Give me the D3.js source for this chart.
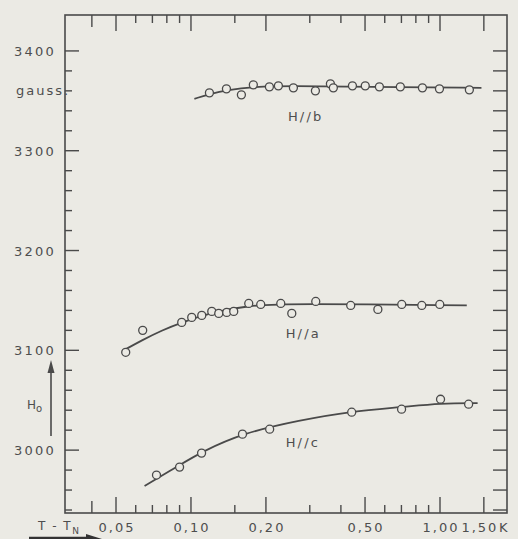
<!DOCTYPE html>
<html>
<head>
<meta charset="utf-8">
<script src="https://cdn.jsdelivr.net/npm/d3@7"></script>
<style>
  html, body { margin: 0; padding: 0; background: #ebeae4; }
  svg { display: block; }
  text { font-family: "DejaVu Sans", sans-serif; fill: #4e4e4e; }
</style>
</head>
<body>
<svg id="chart"></svg>
<script>
// measured values (T - T_N in K, H0 in gauss)
let bT = [0.1186, 0.1388, 0.1594, 0.178, 0.2065, 0.2244, 0.2578, 0.316, 0.363, 0.373, 0.445, 0.501, 0.571, 0.693, 0.85, 0.995, 1.312];
let bH = [3358, 3362, 3356, 3366, 3364, 3365, 3363, 3360, 3367, 3363, 3365, 3365, 3364, 3364, 3363, 3362, 3361];
let aT = [0.0547, 0.064, 0.0918, 0.1007, 0.1105, 0.1212, 0.1293, 0.1392, 0.1485, 0.1706, 0.1906, 0.2294, 0.254, 0.317, 0.438, 0.563, 0.702, 0.845, 0.998];
let aH = [3098, 3120, 3128, 3133, 3135, 3139, 3137, 3138, 3139, 3147, 3146, 3147, 3137, 3149, 3145, 3141, 3146, 3145, 3146];
let cT = [0.0727, 0.09, 0.1103, 0.161, 0.207, 0.442, 0.701, 1.005, 1.303];
let cH = [2975, 2983, 2997, 3016, 3021, 3038, 3041, 3051, 3046];

// hand-drawn fit curves
let bFitT = [0.1032, 0.119, 0.14, 0.178, 0.25, 0.5, 1.467];
let bFitH = [3352, 3357, 3361, 3364, 3365, 3364, 3363];
let aFitT = [0.0537, 0.0634, 0.0763, 0.0918, 0.1212, 0.1706, 0.252, 1.281];
let aFitH = [3100, 3110, 3120, 3128, 3138, 3145, 3147, 3145];
let cFitT = [0.0651, 0.09, 0.11, 0.161, 0.273, 0.442, 0.701, 1.005, 1.416];
let cFitH = [2964, 2985, 2998, 3017, 3030, 3039, 3043, 3047, 3047];

let seriesNames = ['H//b', 'H//a', 'H//c'];
let labelPos = [[0.245, 3330], [0.24, 3112], [0.24, 3003]];

let xTicks = [0.04, 0.05, 0.06, 0.07, 0.08, 0.09, 0.1, 0.15, 0.2, 0.3, 0.4, 0.5, 0.6, 0.7, 0.8, 0.9, 1, 1.5];
let xMajor = [0.05, 0.1, 0.2, 0.5, 1, 1.5];
let xLabels = ['0,05', '0,10', '0,20', '0,50', '1,00', '1,50'];
let yLabels = [3000, 3100, 3200, 3300, 3400];
let yMinor = d3.range(2940, 3401, 20);

let width = 518, height = 539;
let margin = { top: 15, bot: 26, left: 65, right: 11 };
let svg = d3.select('#chart').attr('width', width).attr('height', height);
let ink = '#4a4a4a';

let xScale = d3.scaleLog()
    .domain([0.0312, 1.858])
    .range([margin.left, width - margin.right]);
let yScale = d3.scaleLinear()
    .domain([2937, 3436])
    .range([height - margin.bot, margin.top]);

let x0 = margin.left, x1 = width - margin.right;
let y0 = height - margin.bot, y1 = margin.top;

// frame
svg.append('rect')
  .attr('x', x0).attr('y', y1)
  .attr('width', x1 - x0).attr('height', y0 - y1)
  .style('fill', 'none').style('stroke', ink).style('stroke-width', 1.6);

// x ticks, top and bottom, pointing inward
for (let t of xTicks) {
  let len = xMajor.includes(t) ? 16 : (t === 0.04 ? 12 : 8);
  svg.append('line')
    .attr('x1', xScale(t)).attr('x2', xScale(t))
    .attr('y1', y0).attr('y2', y0 - len)
    .style('stroke', ink).style('stroke-width', 1.4);
  svg.append('line')
    .attr('x1', xScale(t)).attr('x2', xScale(t))
    .attr('y1', y1).attr('y2', y1 + len)
    .style('stroke', ink).style('stroke-width', 1.4);
}

// y ticks, left and right
for (let v of yMinor) {
  let len = yLabels.includes(v) ? 14 : 7;
  svg.append('line')
    .attr('x1', x0).attr('x2', x0 + len)
    .attr('y1', yScale(v)).attr('y2', yScale(v))
    .style('stroke', ink).style('stroke-width', 1.4);
  svg.append('line')
    .attr('x1', x1).attr('x2', x1 - 14)
    .attr('y1', yScale(v)).attr('y2', yScale(v))
    .style('stroke', ink).style('stroke-width', 1.4);
}

// tick labels
svg.selectAll('.ylab')
  .data(yLabels)
  .enter().append('text')
  .attr('class', 'ylab')
  .attr('x', 56)
  .attr('y', d => yScale(d) + 5)
  .style('text-anchor', 'end')
  .style('font-size', '13px')
  .style('letter-spacing', '2.2px')
  .text(d => d);

svg.append('text')
  .attr('x', 16).attr('y', yScale(3360) + 4)
  .style('font-size', '13px')
  .style('letter-spacing', '2px')
  .text('gauss.');

svg.selectAll('.xlab')
  .data(xMajor)
  .enter().append('text')
  .attr('class', 'xlab')
  .attr('x', (d, i) => xScale(d) + (d === 1.5 ? -4 : 1))
  .attr('y', 532)
  .style('text-anchor', 'middle')
  .style('font-size', '13px')
  .style('letter-spacing', '2px')
  .text((d, i) => xLabels[i]);

svg.append('text')
  .attr('x', 499).attr('y', 532)
  .style('font-size', '13px')
  .text('K');

// axis titles with arrows
let tt = svg.append('text')
  .attr('x', 38).attr('y', 530)
  .style('font-size', '12px')
  .style('letter-spacing', '1.5px');
tt.append('tspan').text('T - T');
tt.append('tspan').attr('dy', 4).style('font-size', '9px').text('N');

svg.append('line')
  .attr('x1', 29).attr('x2', 90)
  .attr('y1', 538).attr('y2', 538)
  .style('stroke', '#333').style('stroke-width', 2.5);
svg.append('path')
  .attr('d', 'M86,534 L102,539 L86,542 Z')
  .style('fill', '#333');

let ht = svg.append('text')
  .attr('x', 27).attr('y', 409)
  .style('font-size', '12px');
ht.append('tspan').text('H');
ht.append('tspan').attr('dy', 3).style('font-size', '10px').text('o');

svg.append('line')
  .attr('x1', 51).attr('x2', 51)
  .attr('y1', 436).attr('y2', 372)
  .style('stroke', ink).style('stroke-width', 1.6);
svg.append('path')
  .attr('d', 'M47.5,373 L51,360 L54.5,373 Z')
  .style('fill', ink);

// fit curves
let line = d3.line()
    .x(d => xScale(d[0]))
    .y(d => yScale(d[1]))
    .curve(d3.curveBasis);

let fits = [[bFitT, bFitH], [aFitT, aFitH], [cFitT, cFitH]];
for (let f of fits) {
  svg.append('path')
    .datum(f[0].map((t, i) => [t, f[1][i]]))
    .attr('d', line)
    .style('fill', 'none')
    .style('stroke', ink)
    .style('stroke-width', 1.8);
}

// data circles
let series = [[bT, bH], [aT, aH], [cT, cH]];
for (let s of series) {
  svg.append('g')
    .selectAll('circle')
    .data(s[0].map((t, i) => [t, s[1][i]]))
    .enter().append('circle')
    .attr('cx', d => xScale(d[0]))
    .attr('cy', d => yScale(d[1]))
    .attr('r', 4)
    .style('fill', '#ebeae4')
    .style('stroke', ink)
    .style('stroke-width', 1.3);
}

// series labels
svg.selectAll('.slab')
  .data(seriesNames)
  .enter().append('text')
  .attr('class', 'slab')
  .attr('x', (d, i) => xScale(labelPos[i][0]))
  .attr('y', (d, i) => yScale(labelPos[i][1]))
  .style('font-size', '13px')
  .style('letter-spacing', '2.2px')
  .text(d => d);
</script>
</body>
</html>
